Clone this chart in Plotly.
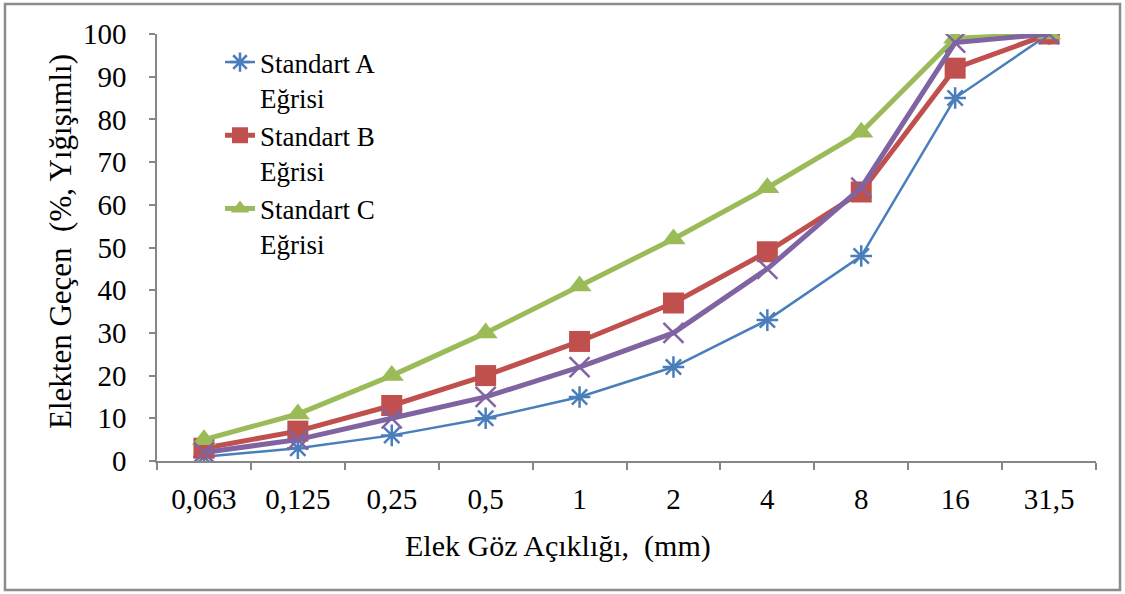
import plotly.graph_objects as go

# Sieve openings (mm) and cumulative passing percentages
sieves = ["0,063", "0,125", "0,25", "0,5", "1", "2", "4", "8", "16", "31,5"]
curve_a = [1, 3, 6, 10, 15, 22, 33, 48, 85, 100]
curve_b = [3, 7, 13, 20, 28, 37, 49, 63, 92, 100]
curve_c = [5, 11, 20, 30, 41, 52, 64, 77, 99, 100]
mix = [2, 5, 10, 15, 22, 30, 45, 64, 98, 100]
y_ticks = list(range(0, 101, 10))

FONT = "Liberation Serif"
AXIS_GRAY = "#868686"

fig = go.Figure()

fig.add_trace(go.Scatter(
    x=sieves, y=curve_a, mode="lines+markers", name="Standart A<br>Eğrisi",
    line=dict(color="#4A7EBB", width=2.5),
    marker=dict(symbol="asterisk-open", size=18, line=dict(color="#4A7EBB", width=2.5)),
))
fig.add_trace(go.Scatter(
    x=sieves, y=curve_b, mode="lines+markers", name="Standart B<br>Eğrisi",
    line=dict(color="#C0504D", width=5),
    marker=dict(symbol="square", size=21, color="#C0504D"),
))
fig.add_trace(go.Scatter(
    x=sieves, y=curve_c, mode="lines+markers", name="Standart C<br>Eğrisi",
    line=dict(color="#9BBB59", width=5),
    marker=dict(symbol="triangle-up", size=21, color="#9BBB59"),
))
fig.add_trace(go.Scatter(
    x=sieves, y=mix, mode="lines+markers", showlegend=False,
    line=dict(color="#8064A2", width=5),
    marker=dict(symbol="x-thin-open", size=20, line=dict(color="#8064A2", width=2.5)),
))

L, R, T, B = 157, 29, 34, 133
W, H = 1125, 594
pw, ph = W - L - R, H - T - B


def px_x(x):
    return (x - L) / pw


def px_y(y):
    return (H - B - y) / ph


fig.update_layout(
    width=W, height=H,
    margin=dict(l=L, r=R, t=T, b=B),
    paper_bgcolor="white", plot_bgcolor="white",
    font=dict(family=FONT, size=29, color="black"),
    legend=dict(
        x=px_x(220), y=px_y(38), xanchor="left", yanchor="top",
        bgcolor="rgba(0,0,0,0)", font=dict(family=FONT, size=27),
        valign="top", tracegroupgap=0, itemwidth=30,
    ),
    xaxis=dict(
        type="category", range=[-0.5, len(sieves) - 0.5],
        showline=True, linecolor=AXIS_GRAY, linewidth=1.5,
        ticks="outside", ticklen=7, tickcolor=AXIS_GRAY, tickwidth=1.5,
        tickson="boundaries", showgrid=False, zeroline=False,
        ticklabelstandoff=11,
        tickfont=dict(family=FONT, size=29),
    ),
    yaxis=dict(
        range=[0, 100], tickvals=y_ticks, showline=True, linecolor=AXIS_GRAY, linewidth=1.5,
        ticks="outside", ticklen=6, tickcolor=AXIS_GRAY, tickwidth=1.5,
        showgrid=False, zeroline=False, ticklabelstandoff=17,
        tickfont=dict(family=FONT, size=29),
    ),
    annotations=[
        dict(text="Elek Göz Açıklığı,\u00a0 (mm)", xref="paper", yref="paper",
             x=px_x(558), y=px_y(546), xanchor="center", yanchor="middle",
             showarrow=False, font=dict(family=FONT, size=30)),
        dict(text="Elekten Geçen\u00a0 (%, Yığışımlı)", xref="paper", yref="paper",
             x=px_x(60), y=px_y(242), xanchor="center", yanchor="middle", textangle=-90,
             showarrow=False, font=dict(family=FONT, size=31)),
    ],
    shapes=[dict(
        type="rect", xref="paper", yref="paper",
        x0=px_x(5), x1=px_x(1120), y0=px_y(590), y1=px_y(4),
        line=dict(color="#8C8C8C", width=2.5), fillcolor="rgba(0,0,0,0)", layer="below",
    )],
)

fig.write_html("out.html")
